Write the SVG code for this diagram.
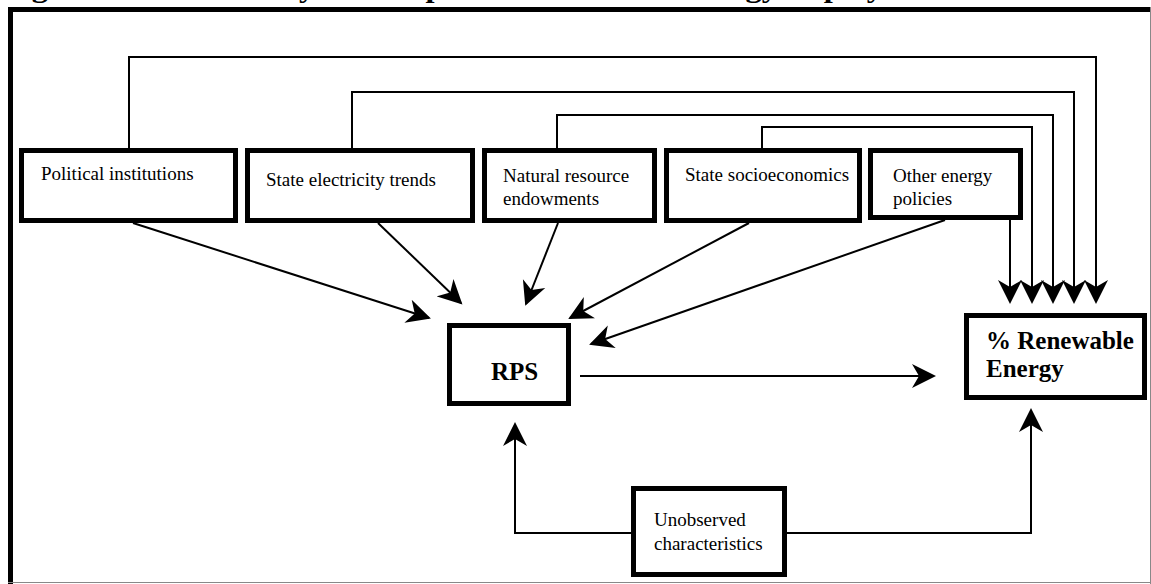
<svg xmlns="http://www.w3.org/2000/svg" width="1151" height="584" viewBox="0 0 1151 584">
<style>
.box{fill:#fff;stroke:#000;stroke-width:5}
.t{font-family:"Liberation Serif","Times New Roman",serif;font-size:19px;fill:#000}
.b{font-family:"Liberation Serif","Times New Roman",serif;font-size:25px;font-weight:bold;fill:#000}
.c{fill:none;stroke:#000;stroke-width:2}
</style>
<defs>
<marker id="ah" markerUnits="userSpaceOnUse" markerWidth="26" markerHeight="26" refX="22" refY="12" orient="auto" viewBox="0 0 26 24">
<path d="M0,0 L24,12 L0,24 L7,12 Z" fill="#000"/>
</marker>
</defs>
<rect width="1151" height="584" fill="#fff"/>
<text x="3" y="-3" font-family="Liberation Serif, serif" font-size="28" font-weight="bold" textLength="950" lengthAdjust="spacingAndGlyphs">Figure 1: Directed Acyclic Graph for Renewable Energy Deployment</text>
<g id="frame">
<rect x="8" y="7" width="1143" height="5" fill="#000"/>
<rect x="8" y="7" width="5" height="577" fill="#000"/>
<line x1="8" y1="582.5" x2="1151" y2="582.5" stroke="#888" stroke-width="1"/>
<line x1="1150.5" y1="7" x2="1150.5" y2="584" stroke="#888" stroke-width="1"/>
</g>
<g id="connectors">
<path class="c" d="M129,148 V57 H1096 V302" marker-end="url(#ah)"/>
<path class="c" d="M352,148 V92 H1074 V302" marker-end="url(#ah)"/>
<path class="c" d="M557,148 V115 H1053 V302" marker-end="url(#ah)"/>
<path class="c" d="M762,148 V127 H1032 V302" marker-end="url(#ah)"/>
<path class="c" d="M1010,220 V302" marker-end="url(#ah)"/>
<path class="c" d="M133,223 L429,318" marker-end="url(#ah)"/>
<path class="c" d="M378,223 L461,303" marker-end="url(#ah)"/>
<path class="c" d="M558,223 L526,304" marker-end="url(#ah)"/>
<path class="c" d="M749,223 L570,318" marker-end="url(#ah)"/>
<path class="c" d="M945,220 L591,344" marker-end="url(#ah)"/>
<path class="c" d="M580,376 H934" marker-end="url(#ah)"/>
<path class="c" d="M631,533 H515 V424" marker-end="url(#ah)"/>
<path class="c" d="M787,533 H1031 V410" marker-end="url(#ah)"/>
</g>
<g id="political"><rect class="box" x="21.5" y="150.5" width="214" height="70"/><text class="t" x="41" y="180">Political institutions</text></g>
<g id="electricity"><rect class="box" x="247.5" y="150.5" width="225" height="70"/><text class="t" x="266" y="186">State electricity trends</text></g>
<g id="natural"><rect class="box" x="484.5" y="150.5" width="170" height="70"/><text class="t" x="503" y="182">Natural resource</text><text class="t" x="503" y="205">endowments</text></g>
<g id="socio"><rect class="box" x="666.5" y="150.5" width="193" height="70"/><text class="t" x="685" y="181">State socioeconomics</text></g>
<g id="other"><rect class="box" x="870.5" y="150.5" width="150" height="67"/><text class="t" x="893" y="182">Other energy</text><text class="t" x="893" y="205">policies</text></g>
<g id="rps"><rect class="box" x="449.5" y="325.5" width="119" height="78"/><text class="b" x="491" y="380">RPS</text></g>
<g id="renewable"><rect class="box" x="966.5" y="315.5" width="178" height="82"/><text class="b" x="986" y="349">% Renewable</text><text class="b" x="986" y="377">Energy</text></g>
<g id="unobserved"><rect class="box" x="633.5" y="488.5" width="151" height="86"/><text class="t" x="654" y="526">Unobserved</text><text class="t" x="654" y="550">characteristics</text></g>
</svg>
